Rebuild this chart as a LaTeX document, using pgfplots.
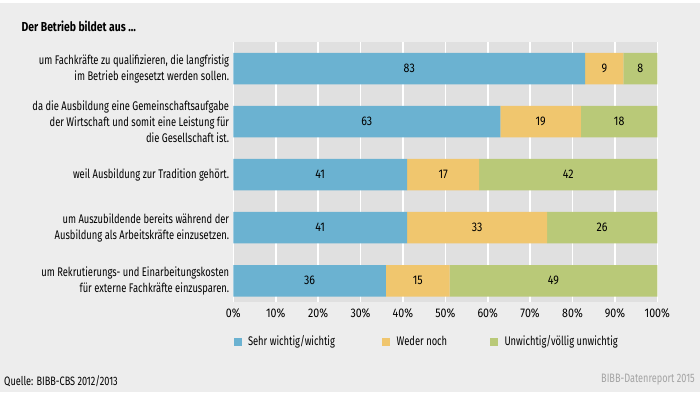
\documentclass[border=0pt]{standalone}
\usepackage{pgfplots}
\pgfplotsset{compat=1.18}
\usepackage{pgfplotstable}
\usepackage{fontspec}
\setmainfont[FakeStretch=0.75]{Fira Sans}
\newfontfamily\numfont[FakeStretch=0.85]{Fira Sans}
\newfontfamily\titlefont[FakeStretch=0.8]{Fira Sans}
\definecolor{bgc}{HTML}{EDEDED}
\definecolor{plotbg}{HTML}{E0E0E0}
\definecolor{cblue}{HTML}{6BB2D1}
\definecolor{cyellow}{HTML}{F0C66E}
\definecolor{cgreen}{HTML}{B9C978}
\definecolor{srcgray}{HTML}{A3A3A3}

\pgfplotstableread{
y a b c
1 83 9 8
2 63 19 18
3 41 17 42
4 41 33 26
5 36 15 49
}\data

\pgfplotsset{
  common/.style={
    at={(233.3pt,93pt)}, anchor=south west, scale only axis,
    width=424pt, height=260pt,
    xmin=0, xmax=100, ymin=0.5, ymax=5.4, y dir=reverse,
  },
}

\begin{document}
\begin{tikzpicture}[x=1pt,y=1pt]
\fill[white] (0,0) rectangle (700,395);
\fill[bgc] (0,3) rectangle (700,392);
\useasboundingbox (0,0) rectangle (700,395);
\node[anchor=west, inner sep=0pt, font=\titlefont\bfseries\fontsize{13}{15}\selectfont] at (21.5,368.3) {Der Betrieb bildet aus \dots};
\node[anchor=west, inner sep=0pt, font=\fontsize{12.2}{15}\selectfont] at (4,13.3) {Quelle: BIBB-CBS 2012/2013};
\node[anchor=east, inner sep=0pt, text=srcgray, font=\fontsize{12.2}{15}\selectfont] at (695,15) {BIBB-Datenreport 2015};
\begin{axis}[common,
  xbar stacked, bar width=31.5pt,
  axis background/.style={fill=plotbg},
  axis line style={draw=none},
  major tick length=0pt,
  xmajorgrids, major grid style={white, line width=1.6pt},
  xtick={0,10,...,100},
  /pgf/number format/assume math mode=true,
  xticklabel={\pgfmathprintnumber{\tick}\%},
  xticklabel style={anchor=center, yshift=-11pt, font=\numfont\fontsize{12.5}{14}\selectfont},
  ytick={1,2,3,4,5},
  yticklabels={
    {um Fachkräfte zu qualifizieren, die langfristig\\im Betrieb eingesetzt werden sollen.},
    {da die Ausbildung eine Gemeinschaftsaufgabe\\der Wirtschaft und somit eine Leistung für\\die Gesellschaft ist.},
    {weil Ausbildung zur Tradition gehört.},
    {um Auszubildende bereits während der\\Ausbildung als Arbeitskräfte einzusetzen.},
    {um Rekrutierungs- und Einarbeitungskosten\\für externe Fachkräfte einzusparen.}},
  yticklabel style={anchor=east, align=right, inner sep=0pt, xshift=-4pt, font=\fontsize{12.5}{16}\selectfont},
  legend style={at={(0,0)}, anchor=west, yshift=-39.5pt, draw=none, fill=none, inner sep=0pt,
    legend columns=3, column sep=0pt,
    font=\fontsize{12.5}{15}\selectfont,
    nodes={inner sep=0pt},
    /tikz/every odd column/.style={column sep=6.5pt}},
  legend image code/.code={\fill[#1] (0pt,-4pt) rectangle (8pt,4pt);},
]
\addplot[fill=cblue, draw=none] table[x=a, y=y] {\data};
\addplot[fill=cyellow, draw=none] table[x=b, y=y] {\data};
\addplot[fill=cgreen, draw=none] table[x=c, y=y] {\data};
\legend{\makebox[134.2pt][l]{Sehr wichtig/wichtig}, \makebox[93.3pt][l]{Weder noch}, Unwichtig/völlig unwichtig}
\end{axis}
\begin{axis}[common, hide axis,
  nodes near coords, point meta=explicit symbolic,
  every node near coord/.append style={anchor=center, font=\numfont\fontsize{12.5}{14}\selectfont}]
\addplot[draw=none] table[x expr=\thisrow{a}/2, y=y, meta=a] {\data};
\addplot[draw=none] table[x expr=\thisrow{a}+\thisrow{b}/2, y=y, meta=b] {\data};
\addplot[draw=none] table[x expr=\thisrow{a}+\thisrow{b}+\thisrow{c}/2, y=y, meta=c] {\data};
\end{axis}
\end{tikzpicture}
\end{document}
